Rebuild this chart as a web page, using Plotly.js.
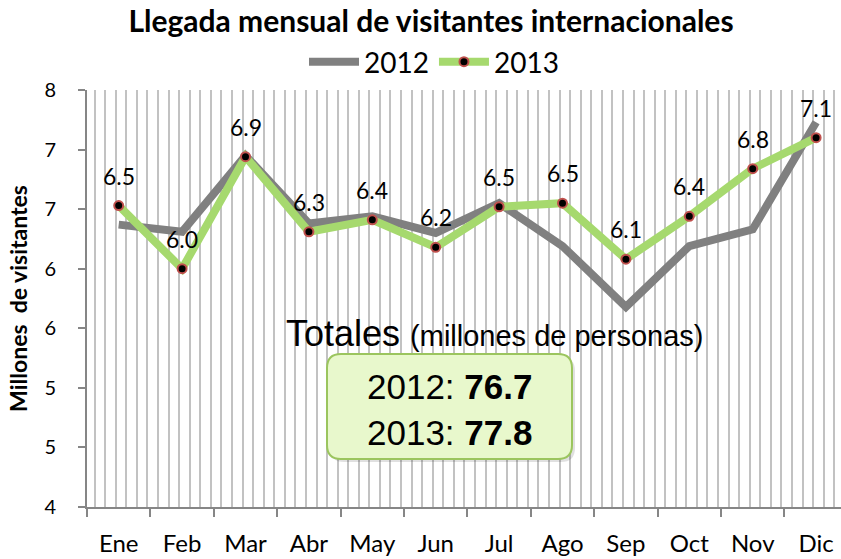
<!DOCTYPE html>
<html>
<head>
<meta charset="utf-8">
<script src="https://cdn.plot.ly/plotly-3.0.1.min.js"></script>
<style>html,body{margin:0;padding:0;background:#fff;}#chart{width:841px;height:559px;}</style>
</head>
<body>
<div id="chart"></div>
<script>
const categories = ['Ene','Feb','Mar','Abr','May','Jun','Jul','Ago','Sep','Oct','Nov','Dic'];
const visitors2012 = [6.37, 6.31, 6.95, 6.38, 6.44, 6.30, 6.55, 6.19, 5.68, 6.19, 6.33, 7.23];
const visitors2013 = [6.53, 6.00, 6.94, 6.31, 6.41, 6.18, 6.52, 6.55, 6.08, 6.44, 6.84, 7.10];
const yTickVals = [4, 4.5, 5, 5.5, 6, 6.5, 7, 7.5];
const yTickText = ['4', '5', '5', '6', '6', '7', '7', '8'];
const totalsYears = ['2012', '2013'];
const totalsValues = ['76.7', '77.8'];

const W = 841, H = 559;
const M = {l: 87, r: 0, t: 90, b: 52};
const pw = W - M.l - M.r, ph = H - M.t - M.b;
const px = x => (x - M.l) / pw;
const py = y => (H - M.b - y) / ph;
const catW = 63.4;
const xMax = -0.5 + pw / catW;

function roundRect(x0, y0, x1, y1, r) {
  const rx = r / pw, ry = r / ph;
  const a = px(x0), b = px(x1), top = py(y0), bot = py(y1);
  return `M${a + rx},${top} L${b - rx},${top} Q${b},${top} ${b},${top - ry} ` +
         `L${b},${bot + ry} Q${b},${bot} ${b - rx},${bot} L${a + rx},${bot} ` +
         `Q${a},${bot} ${a},${bot + ry} L${a},${top - ry} Q${a},${top} ${a + rx},${top} Z`;
}

const traces = [
  {x: [], y: [], xaxis: 'x2', yaxis: 'y', showlegend: false, hoverinfo: 'skip'},
  {x: categories, y: visitors2012, name: '2012', mode: 'lines',
   line: {color: '#808080', width: 8}},
  {x: categories, y: visitors2013, name: '2013', mode: 'lines+markers',
   line: {color: '#a6d96e', width: 8},
   marker: {color: '#000000', size: 9, line: {color: '#c0504d', width: 2}}}
];

const dataLabels = visitors2013.map((v, i) => ({
  x: categories[i], y: v, xref: 'x', yref: 'y', text: v.toFixed(1),
  showarrow: false, yshift: 30, font: {family: 'Lato', size: 23, color: '#000'}
}));

const boxAnn = totalsYears.map((yr, i) => ({
  xref: 'paper', yref: 'paper', x: px(449), y: py(386 + i * 46), xanchor: 'center', yanchor: 'middle',
  text: yr + ': <b>' + totalsValues[i] + '</b>', showarrow: false,
  font: {family: 'Liberation Sans, Arial', size: 35, color: '#000'}
}));

const layout = {
  width: W, height: H,
  margin: M,
  paper_bgcolor: '#fff', plot_bgcolor: '#fff',
  title: {text: '<b>Llegada mensual de visitantes internacionales</b>',
    x: 431 / W, xanchor: 'center', y: 1 - 21 / H, yanchor: 'middle', yref: 'container',
    font: {family: 'Lato', size: 30, color: '#000'}},
  showlegend: true,
  legend: {orientation: 'h', x: px(434), xanchor: 'center', y: py(62), yanchor: 'middle',
    font: {family: 'Lato', size: 28, color: '#000'}, itemwidth: 50, bgcolor: 'rgba(0,0,0,0)'},
  xaxis: {type: 'category', range: [-0.5, xMax], tickson: 'boundaries', showgrid: false,
    showline: true, linecolor: '#868686', linewidth: 2, ticks: 'outside', ticklen: 8,
    tickcolor: '#868686', tickwidth: 2, ticklabelstandoff: 14,
    tickfont: {family: 'Lato', size: 24, color: '#000'}, zeroline: false},
  xaxis2: {type: 'linear', overlaying: 'x', range: [-0.5, xMax], tick0: -0.38, dtick: 1 / 6,
    showgrid: true, gridcolor: '#c2c2c2', gridwidth: 2, showticklabels: false, ticks: '',
    showline: false, zeroline: false, anchor: 'y', side: 'bottom'},
  yaxis: {range: [4, 7.5], tickvals: yTickVals, ticktext: yTickText, showgrid: false,
    showline: true, linecolor: '#868686', linewidth: 2, ticks: 'outside', ticklen: 7,
    tickcolor: '#868686', tickwidth: 2, ticklabelstandoff: 18, zeroline: false,
    tickfont: {family: 'Lato', size: 20, color: '#000'},
    title: {text: '<b>Millones  de visitantes</b>', standoff: 10,
      font: {family: 'Lato', size: 23, color: '#000'}}},
  shapes: [
    {type: 'path', xref: 'paper', yref: 'paper', path: roundRect(330, 357, 575, 462, 14),
     fillcolor: 'rgba(0,0,0,0.12)', line: {width: 0}},
    {type: 'path', xref: 'paper', yref: 'paper', path: roundRect(327, 354, 572, 459, 14),
     fillcolor: '#e8f8cc', line: {color: '#9bc55e', width: 2}}
  ],
  annotations: [
    ...dataLabels,
    {xref: 'paper', yref: 'paper', x: px(494), y: py(333), xanchor: 'center', yanchor: 'middle',
     showarrow: false, text: 'Totales <span style="font-size:29px">(millones de personas)</span>',
     font: {family: 'Liberation Sans, Arial', size: 36, color: '#000'}},
    ...boxAnn
  ]
};

Plotly.newPlot('chart', traces, layout, {displayModeBar: false, staticPlot: true});
</script>
</body>
</html>
